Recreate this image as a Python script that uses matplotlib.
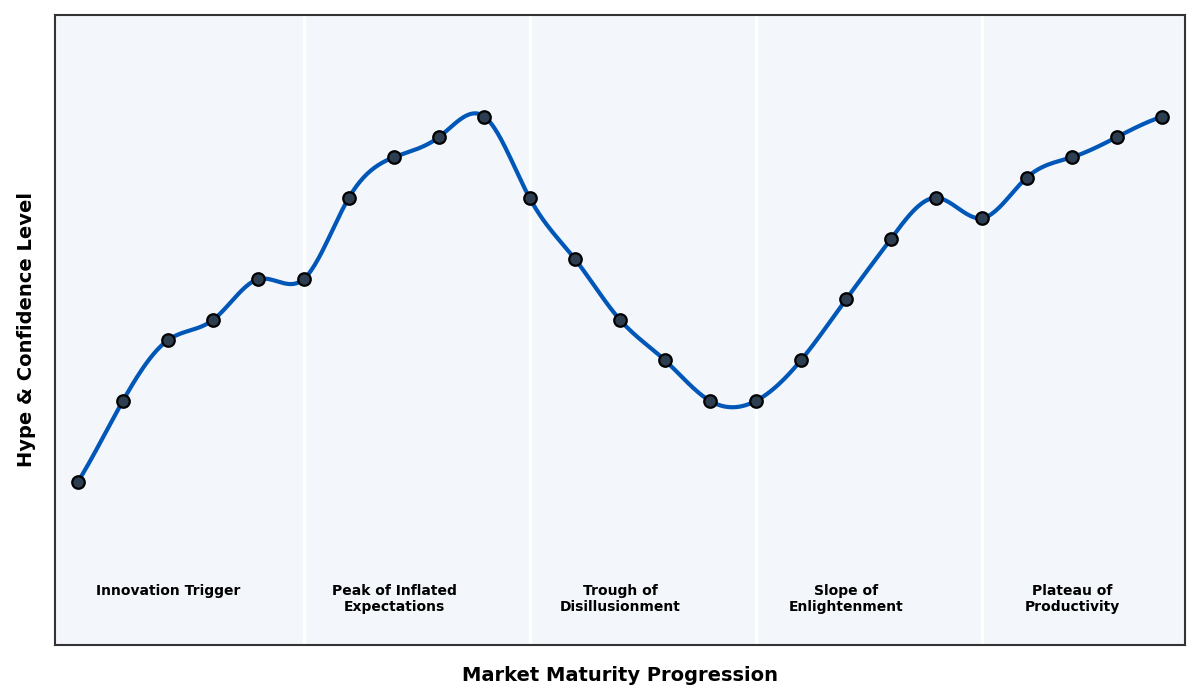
import numpy as np
import matplotlib
matplotlib.use("Agg")
import matplotlib.pyplot as plt

# Data
steps = list(range(25))
hype = [8, 12, 15, 16, 18, 18, 22, 24, 25, 26, 22, 19, 16, 14, 12, 12, 14, 17, 20, 22, 21, 23, 24, 25, 26]
phase_bounds = [5, 10, 15, 20]
phase_centers = [2, 7, 12, 17, 22]
phase_labels = ["Innovation Trigger", "Peak of Inflated\nExpectations", "Trough of\nDisillusionment",
                "Slope of\nEnlightenment", "Plateau of\nProductivity"]


def smooth(x, y, n=600):
    x = np.asarray(x, float)
    y = np.asarray(y, float)
    try:
        from scipy.interpolate import make_interp_spline
        xs = np.linspace(x[0], x[-1], n)
        return xs, make_interp_spline(x, y, k=3)(xs)
    except Exception:
        pass
    # natural cubic spline fallback
    m = len(x)
    h = np.diff(x)
    A = np.zeros((m, m))
    b = np.zeros(m)
    A[0, 0] = 1
    A[-1, -1] = 1
    for i in range(1, m - 1):
        A[i, i - 1] = h[i - 1]
        A[i, i] = 2 * (h[i - 1] + h[i])
        A[i, i + 1] = h[i]
        b[i] = 3 * ((y[i + 1] - y[i]) / h[i] - (y[i] - y[i - 1]) / h[i - 1])
    c = np.linalg.solve(A, b)
    xs = np.linspace(x[0], x[-1], n)
    idx = np.clip(np.searchsorted(x, xs) - 1, 0, m - 2)
    bb = (y[1:] - y[:-1]) / h - h * (2 * c[:-1] + c[1:]) / 3
    d = (c[1:] - c[:-1]) / (3 * h)
    t = xs - x[idx]
    ys = y[idx] + bb[idx] * t + c[idx] * t ** 2 + d[idx] * t ** 3
    return xs, ys


fig = plt.figure(figsize=(12, 7), dpi=100)
ax = fig.add_axes([0.0458, 0.0786, 0.9417, 0.9])
ax.set_facecolor("#F3F6FA")

for xb in phase_bounds:
    ax.axvline(xb, color="white", lw=2.5, zorder=1)

xs, ys = smooth(steps, hype)
ax.plot(xs, ys, color="#0057B7", lw=3, zorder=3)
ax.plot(steps, hype, "o", ms=9, mfc="#2C3E50", mec="black", mew=1.6, zorder=4)

for xc, lab in zip(phase_centers, phase_labels):
    ax.text(xc, 3.0, lab, ha="center", va="top", fontsize=10, fontweight="bold", color="black")

ax.set_xlim(-0.5, 24.5)
ax.set_ylim(0, 31)
ax.set_xticks([])
ax.set_yticks([])
for s in ax.spines.values():
    s.set_color("#333333")
    s.set_linewidth(1.5)

ax.set_xlabel("Market Maturity Progression", fontsize=14, fontweight="bold", labelpad=15)
ax.set_ylabel("Hype & Confidence Level", fontsize=14, fontweight="bold", labelpad=14)

fig.savefig("out.png", dpi=100, facecolor="white")
